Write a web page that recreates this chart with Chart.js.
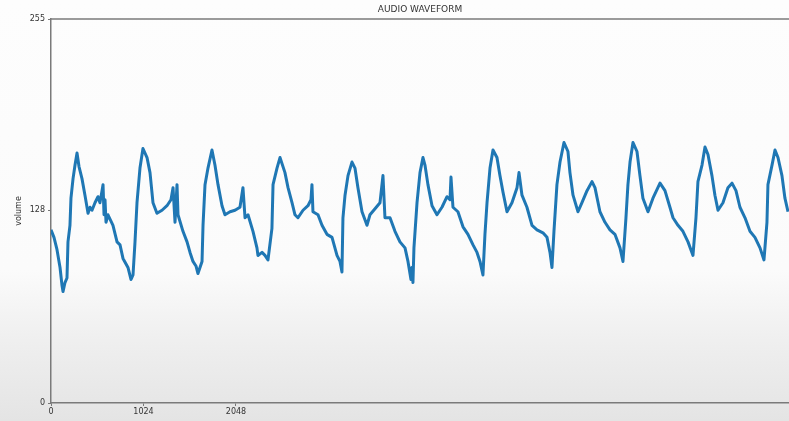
<!DOCTYPE html>
<html>
<head>
<meta charset="utf-8">
<script src="https://cdn.jsdelivr.net/npm/chart.js@4"></script>
<style>
  html, body { margin: 0; padding: 0; }
  body {
    width: 789px; height: 421px; overflow: hidden;
    background: linear-gradient(to bottom, #fdfdfd 0px, #fbfbfb 270px, #efefef 340px, #e4e4e4 421px);
  }
  canvas { display: block; }
</style>
</head>
<body>
<canvas id="wave" width="789" height="421"></canvas>
<script>
// sample index / volume pairs
const sampleIdx = [
  0, 33, 66, 100, 122, 133, 155, 177, 188, 210, 221, 244, 266, 288, 310, 343, 376, 410, 432, 454,
  487, 520, 542, 565, 576, 587, 598, 609, 631, 686, 731, 764, 797, 852, 886, 908, 930, 952, 985, 1018,
  1063, 1096, 1129, 1173, 1229, 1284, 1328, 1351, 1373, 1395, 1406, 1461, 1506, 1539, 1572, 1605, 1627, 1672, 1683, 1705,
  1738, 1782, 1815, 1849, 1893, 1926, 1982, 2037, 2092, 2125, 2148, 2181, 2236, 2280, 2291, 2336, 2369, 2402, 2446, 2458,
  2502, 2535, 2590, 2624, 2668, 2701, 2734, 2790, 2845, 2878, 2889, 2900, 2956, 3000, 3055, 3111, 3166, 3199, 3221, 3232,
  3255, 3288, 3332, 3365, 3398, 3443, 3498, 3531, 3587, 3642, 3675, 3697, 3753, 3808, 3863, 3919, 3952, 3985, 3996, 4007,
  4018, 4052, 4085, 4118, 4140, 4173, 4218, 4273, 4328, 4384, 4417, 4428, 4450, 4505, 4561, 4616, 4672, 4716, 4749, 4782,
  4804, 4827, 4860, 4893, 4937, 4970, 5004, 5048, 5103, 5159, 5181, 5214, 5269, 5325, 5380, 5446, 5491, 5524, 5546, 5568,
  5601, 5635, 5679, 5723, 5745, 5779, 5834, 5878, 5934, 5989, 6022, 6077, 6133, 6188, 6243, 6299, 6332, 6365, 6387, 6410,
  6443, 6487, 6520, 6553, 6609, 6664, 6742, 6797, 6852, 6886, 6941, 6996, 7052, 7107, 7140, 7162, 7207, 7240, 7273, 7317,
  7350, 7384, 7439, 7494, 7539, 7583, 7627, 7683, 7738, 7793, 7849, 7893, 7926, 7937, 7982, 8015, 8048, 8092, 8125, 8159
];
const volume = [
  115, 110, 102, 90, 78, 74, 80, 83, 107, 118, 136, 149, 158, 166, 157, 149, 138, 126, 130, 128,
  133, 137, 133, 141, 145, 125, 135, 120, 125, 118, 107, 105, 96, 90, 82, 85, 107, 133, 156, 169,
  163, 153, 133, 126, 128, 131, 135, 143, 120, 145, 125, 114, 107, 100, 94, 91, 86, 94, 118, 145,
  156, 168, 158, 145, 131, 125, 127, 128, 130, 143, 123, 125, 114, 103, 98, 100, 98, 95, 116, 145,
  156, 163, 153, 143, 133, 125, 123, 128, 131, 135, 145, 127, 125, 118, 112, 110, 98, 94, 87, 123,
  138, 151, 160, 156, 143, 127, 118, 125, 129, 133, 151, 123, 123, 114, 107, 103, 94, 82, 90, 80,
  103, 133, 153, 163, 158, 145, 131, 125, 130, 137, 135, 150, 130, 127, 117, 112, 105, 100, 94, 85,
  112, 133, 156, 168, 163, 151, 140, 127, 133, 143, 153, 138, 130, 118, 115, 113, 110, 100, 90, 114,
  145, 160, 173, 167, 153, 138, 127, 133, 141, 147, 143, 127, 120, 115, 112, 103, 94, 123, 145, 160,
  173, 167, 151, 136, 127, 136, 146, 141, 130, 123, 118, 114, 107, 98, 123, 147, 158, 170, 165, 151,
  138, 128, 133, 143, 146, 141, 130, 123, 114, 110, 103, 95, 120, 145, 158, 168, 163, 151, 136, 127
];
const xTicks = [0, 1024, 2048];
const yTicks = [0, 128, 255];
const xMax = 8170;

const points = sampleIdx.map((s, i) => ({ x: s, y: volume[i] }));

// top spine like matplotlib's axes frame
const topSpine = {
  id: 'topSpine',
  afterDraw(chart) {
    const { ctx, chartArea } = chart;
    ctx.save();
    ctx.strokeStyle = '#7a7a7a';
    ctx.lineWidth = 1.5;
    ctx.beginPath();
    ctx.moveTo(chartArea.left, chartArea.top);
    ctx.lineTo(chartArea.right + 2, chartArea.top);
    ctx.stroke();
    ctx.restore();
  }
};

const ctx = document.getElementById('wave').getContext('2d');
new Chart(ctx, {
  type: 'line',
  data: {
    datasets: [{
      data: points,
      borderColor: '#1f77b4',
      borderWidth: 3,
      borderJoinStyle: 'round',
      pointRadius: 0,
      tension: 0,
      fill: false,
    }]
  },
  options: {
    responsive: false,
    animation: false,
    layout: { padding: { left: 0, right: 0, top: 0, bottom: 0 } },
    plugins: {
      legend: { display: false },
      tooltip: { enabled: false },
      title: {
        display: true,
        text: 'AUDIO WAVEFORM',
        fullSize: false,
        color: '#333',
        font: { family: 'DejaVu Sans', size: 9, weight: 'normal' },
        padding: { top: 4, bottom: 4.2 },
      },
    },
    scales: {
      x: {
        type: 'linear',
        min: 0,
        max: xMax,
        afterBuildTicks: (scale) => { scale.ticks = xTicks.map(v => ({ value: v })); },
        afterFit: (scale) => { scale.height = 18; },
        ticks: {
          color: '#333',
          padding: 1,
          maxRotation: 0,
          callback: (v) => String(v),
          font: { family: 'DejaVu Sans', size: 8 },
        },
        grid: { drawOnChartArea: false, drawTicks: true, tickLength: 3, color: '#777' },
        border: { display: true, color: '#7a7a7a', width: 1.5 },
      },
      y: {
        min: 0,
        max: 255,
        afterBuildTicks: (scale) => { scale.ticks = yTicks.map(v => ({ value: v })); },
        afterFit: (scale) => { scale.width = 51; },
        ticks: {
          color: '#333',
          padding: 3,
          callback: (v) => String(v),
          font: { family: 'DejaVu Sans', size: 8 },
        },
        title: {
          display: true,
          text: 'volume',
          color: '#333',
          font: { family: 'DejaVu Sans', size: 8 },
          padding: { top: 14, bottom: 0 },
        },
        grid: { drawOnChartArea: false, drawTicks: true, tickLength: 3, color: '#777' },
        border: { display: true, color: '#7a7a7a', width: 1.5 },
      }
    }
  },
  plugins: [topSpine]
});
</script>
</body>
</html>
